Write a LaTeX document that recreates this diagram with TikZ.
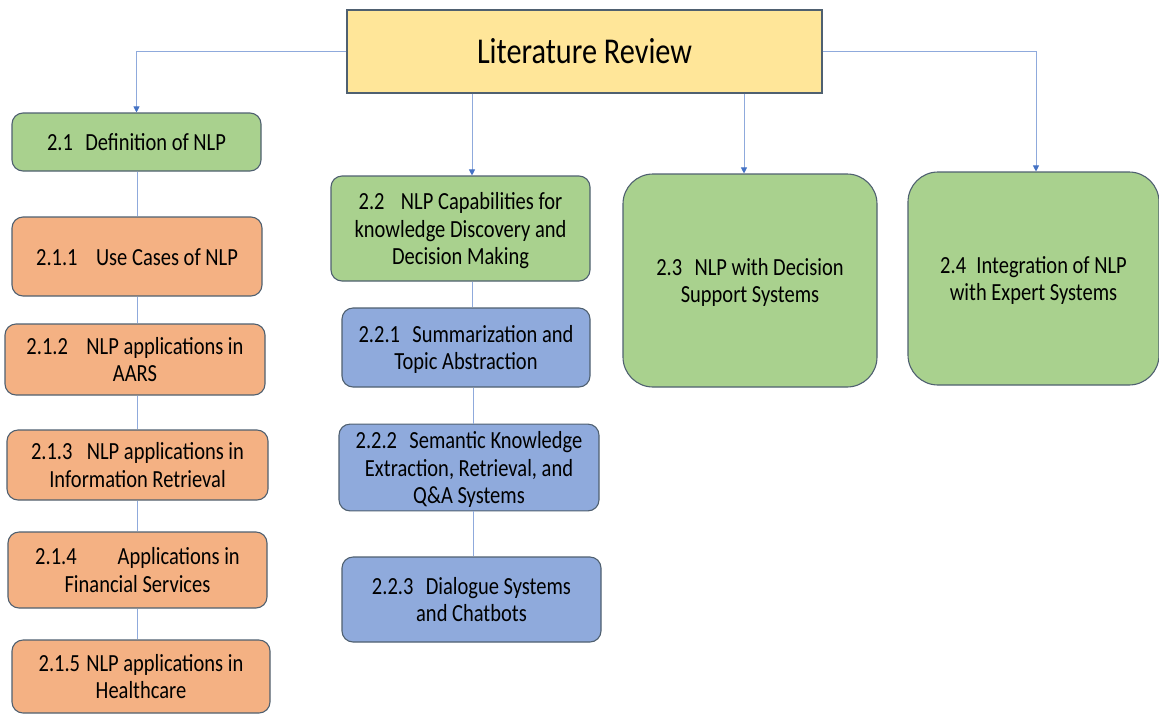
\documentclass[tikz,border=0pt]{standalone}
\usepackage{fontspec}
\usepackage{graphicx}
\setmainfont{Carlito}
\usetikzlibrary{arrows.meta}
\definecolor{boxgreen}{HTML}{A9D18E}
\definecolor{boxorange}{HTML}{F4B183}
\definecolor{boxblue}{HTML}{8FAADC}
\definecolor{boxyellow}{HTML}{FFE699}
\definecolor{edgegray}{HTML}{4F6070}
\definecolor{linkblue}{HTML}{8FAADC}
\definecolor{tipblue}{HTML}{4472C4}
% centred lines of text, set a little taller than wide and dropped onto the optical centre
\newcommand{\lbl}[2][-3pt]{\raisebox{#1}[\height][\depth]{\scalebox{1}[1.2]{\begin{tabular}{@{}c@{}}#2\end{tabular}}}}
\begin{document}
\begin{tikzpicture}[x=1pt,y=-1pt,
  box/.style={draw=edgegray, line width=1.1pt, rounded corners=11pt,
    inner sep=2pt, font=\fontsize{20.5}{23}\selectfont, text=black},
  bigbox/.style={box, rounded corners=30pt},
  green/.style={fill=boxgreen},
  orange/.style={fill=boxorange},
  blue/.style={fill=boxblue},
  link/.style={draw=linkblue, line width=0.9pt},
  arr/.style={link, -{Triangle[width=6pt,length=6pt,fill=tipblue,color=tipblue]}}]
\useasboundingbox (0,0) rectangle (1159,713);

% root
\node[draw=edgegray, line width=1.1pt, fill=boxyellow, minimum width=475pt, minimum height=83pt,
  font=\fontsize{30.3}{34}\selectfont] (root) at (584.5,51.5) {\lbl[-4pt]{Literature Review}};

% section 2.1 column
\node[box, green, minimum width=249pt, minimum height=58pt] (d21) at (136.5,142) {\lbl{2.1\hspace{0.6em}Definition of NLP}};
\node[box, orange, minimum width=250pt, minimum height=79pt] (d211) at (137,256.5) {\lbl{2.1.1\hspace{0.9em}Use Cases of NLP}};
\node[box, orange, minimum width=260pt, minimum height=71pt] (d212) at (135,359.5) {\lbl{2.1.2\hspace{0.9em}NLP applications in\\AARS}};
\node[box, orange, minimum width=261pt, minimum height=70pt] (d213) at (137.5,465) {\lbl{2.1.3\hspace{0.7em}NLP applications in\\Information Retrieval}};
\node[box, orange, minimum width=259pt, minimum height=76pt] (d214) at (137.5,570) {\lbl{2.1.4\hspace{2em}Applications in\\Financial Services}};
\node[box, orange, minimum width=258pt, minimum height=73pt] (d215) at (141,676.5) {\lbl{2.1.5\hspace{0.3em}NLP applications in\\Healthcare}};

% section 2.2 column
\node[box, green, minimum width=259pt, minimum height=105pt] (d22) at (460.5,228.5) {\lbl{2.2\hspace{0.8em}NLP Capabilities for\\knowledge Discovery and\\Decision Making}};
\node[box, blue, minimum width=248pt, minimum height=79pt] (d221) at (466,347.5) {\lbl{2.2.1\hspace{0.6em}Summarization and\\Topic Abstraction}};
\node[box, blue, minimum width=260pt, minimum height=83pt] (d222) at (469,467.5) {\lbl{2.2.2\hspace{0.6em}Semantic Knowledge\\Extraction, Retrieval, and\\Q\&A Systems}};
\node[box, blue, minimum width=259pt, minimum height=85pt] (d223) at (471.5,599.5) {\lbl{2.2.3\hspace{0.6em}Dialogue Systems\\and Chatbots}};

% sections 2.3 and 2.4
\node[bigbox, green, minimum width=254pt, minimum height=213pt] (d23) at (750,280.5) {\lbl{2.3\hspace{0.6em}NLP with Decision\\Support Systems}};
\node[bigbox, green, minimum width=251pt, minimum height=213pt] (d24) at (1033.5,278.5) {\lbl{2.4\hspace{0.5em}Integration of NLP\\with Expert Systems}};

% connectors from the root
\draw[arr] (root.west) -| (d21.north);
\draw[arr] (root.east) -| ([xshift=2.5pt]d24.north);
\draw[arr] ([xshift=11.5pt]d22.north |- root.south) -- ([xshift=11.5pt]d22.north);
\draw[arr] ([xshift=-6pt]d23.north |- root.south) -- ([xshift=-6pt]d23.north);

% chains inside the columns
\draw[link] (d211.north |- d21.south) -- (d211.north);
\draw[link] (d211.south) -- (d211.south |- d212.north);
\draw[link] (d212.south -| d211.south) -- (d211.south |- d213.north);
\draw[link] (d213.south) -- (d213.south |- d214.north);
\draw[link] (d214.south) -- (d214.south |- d215.north);
\draw[link] ([xshift=12pt]d22.south) -- ([xshift=12pt]d22.south |- d221.north);
\draw[link] ([xshift=7pt]d221.south) -- ([xshift=7pt]d221.south |- d222.north);
\draw[link] ([xshift=4pt]d222.south) -- ([xshift=4pt]d222.south |- d223.north);
\end{tikzpicture}
\end{document}
